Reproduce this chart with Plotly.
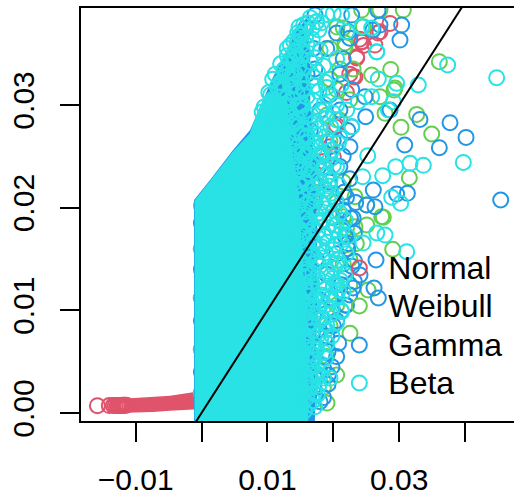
import plotly.graph_objects as go

RED, GREEN, BLUE, CYAN = "#DF536B", "#61D04F", "#2297E6", "#28E2E5"

# Dense mass of the Normal lower tail (outline)
normal_mass_x = [-.0114, -.00736, -.00478, .0002, .0002, -.00478, -.00736, -.0114]
normal_mass_y = [.00140, .00153, .00168, .00216, .00039, .00022, .00010, .00003]

# Dense mass of the Gamma and Beta clouds (outlines)
gamma_mass_x = [-.00114, -.00114, .00129, .00478, .00736, .00888, .01085, .01297, .01419, .0160,
                .0165, .0165, .0172, .0175, .0176, .0174, .0172]
gamma_mass_y = [-.001, .02074, .02269, .02561, .02756, .0298, .03272, .03535, .037, .0385,
                .0345, .030, .024, .019, .012, .006, -.001]
beta_mass_x = [-.00105, -.00105, .0013, .0048, .0073, .0086, .0100, .0130, .0133, .0142, .0148,
               .0152, .0156, .0158, .0162, .0162]
beta_mass_y = [-.001, .0207, .0226, .0255, .0272, .0295, .0312, .0305, .0275, .024, .021,
               .017, .012, .008, .004, -.001]

normal_x = [-.0158, -.0140, -.0134, -.0131, -.0128, -.0126, -.0124, -.0122, -.0120, -.0118, -.0116, -.0114,
            .0286, .02708, .0243, .0263, .02354, .02304, .02025, .0195, .01722, .0200, .01646, .02678,
            .02431, .0246, .0240, .02355, .02329, .0225, .0220, .0205, .0185, .0172]
normal_y = [.00071, .00072, .00073, .00073, .00073, .00074, .00074, .00074, .00075, .00075, .00075, .00076,
            .03794, .03713, .03616, .03583, .0347, .03275, .02788, .02593, .02236, .02496, .01762, .0370,
            .03613, .0358, .0364, .03457, .03272, .0330, .0312, .0280, .0245, .0205]

weibull_x = [.03609, .03265, .03027, .03493, .03154, .02871, .02921, .02708, .02785, .02582,
             .02329, .02506, .02734, .02177, .0243, .03062, .02708, .02456, .02152, .02759,
             .02901, .02507, .02329, .02527, .02253, .01904, .02051, .0175, .0185, .0195,
             .0190, .0205, .0210, .0195, .0215, .0230, .0225, .0215, .0205, .0220,
             .0235, .0215, .0225, .0205, .0195, .0190, .0185, .02178, .02056, .02936,
             -.00005, -.00005, -.00005, -.00005, -.00002, .0195, .0210, .0225]
weibull_y = [.03421, .02908, .02782, .02717, .02291, .03346, .03145, .0308, .02918, .03291,
             .02106, .02025, .01912, .03567, .03924, .03924, .03924, .03762, .01912, .01906,
             .01594, .01831, .01814, .01198, .00776, .00097, .0037, .0215, .024, .0265,
             .029, .0315, .0335, .0355, .0375, .0335, .0305, .0225, .0205, .018,
             .0165, .0145, .0125, .0105, .0085, .0055, .0025, .03603, .03758, .03164,
             .0020, .0062, .0112, .0160, .0202, .0325, .0285, .0150]

gamma_x = [.0454, .04014, .03771, .03609, .03315, .03083, .03124, .02961, .02607, .02632,
           .02506, .02491, .02861, .02481, .03012, .03037, .02708, .02228, .02279, .02152,
           .01621, .02253, .02678, .02648, .02618, .02683, .02405, .02299, .02051, .01925,
           .01849, .01798, .02279, .02602, .01722, .0230, .0218, .0205, .0190, .0180,
           .0170, .0175, .0190, .0205, .0220, .0232, .0212, .0196, .0182, .0170,
           .0178, .0192, .0208, .0222, .0216, .0200, .0186, .0174, .0164, .0178,
           .0194, .0210, .0200, .0184, .0168, .0155, .0165, .0180, .0195, .0210,
           .0160, .0150, .0170, .0158, .0140, .0152, .0172, .0190,
           -.00002, -.00002, -.00002, -.00002, .0155, .0163, .0172, .0179,
           .0225, .0232, .0218, .0228, .0222, .0232, .0226, .0234, .0220, .0225,
           .0215, .0222, .0228, .0210, .0215, .0225, .0205, .0200, .0192, .0198, .0185]
gamma_y = [.02074, .02684, .02827, .02584, .02859, .0261, .02139, .02132, .02171, .02009,
           .02025, .02885, .0295, .0308, .03632, .03778, .03778, .03713, .02788, .01977,
           .02431, .02593, .0392, .0149, .01217, .0112, .01344, .01217, .00549, .0037,
           .00451, .0011, .03875, .0373, .03875, .0190, .0172, .0155, .0135, .0110,
           .0095, .0080, .0075, .0090, .0105, .0148, .0125, .0112, .0092, .0065,
           .0048, .0028, .0068, .0165, .0215, .0190, .0172, .0150, .0130, .0240,
           .0225, .0240, .0265, .0250, .0225, .0290, .0275, .0295, .0310, .0330,
           .0330, .0350, .0355, .0375, .0345, .0315, .0335, .0355,
           .0040, .0090, .0140, .0185, .0012, .0035, .0018, .0041,
           .0115, .0128, .0105, .0143, .0160, .0175, .0190, .0205, .0210, .0228,
           .0250, .0275, .0315, .0295, .0345, .0365, .0370, .0085, .0060, .0045, .0015]

beta_x = [.04479, .03735, .0329, .03973, .03366, .03164, .02946, .02749, .02522, .03022,
          .02886, .02446, .02658, .02961, .02683, .02583, .02911, .02836, .02379, .02203,
          .02279, .02051, .02077, .01722, .01644, .0195, .02203, .01747, .01494, .02,
          .0243, .02785, .02659, .02451, .03114, .019, .02127, .0195, .02582, .02659,
          .01616, .02127,
          .0028, .0048, .0068, .0085, .0098, .0108, .0120, .0132, .0142, .0152,
          .0142, .0149, .0156, .0163, .0169, .0172,
          .0144, .0151, .0158, .0164, .0171, .0178,
          .0142, .0149, .0156, .0165, .0172, .0180,
          .0145, .0152, .0159, .0167, .0175, .0186,
          .0143, .0150, .0160, .0168, .0177, .0189,
          .0140, .0148, .0157, .0165, .0174, .0184, .0196,
          .0138, .0146, .0154, .0163, .0172, .0182, .0193, .0205,
          .0137, .0147, .0156, .0167, .0176, .0187, .0199, .0211,
          .0133, .0143, .0153, .0162, .0174, .0183, .0196, .0207,
          .0131, .0141, .0150, .0161, .0171, .0182, .0191, .0203,
          .0128, .0139, .0149, .0159, .0170, .0179, .0192, .0204,
          .0126, .0136, .0146, .0157, .0168, .0178, .0189, .0201,
          .0129, .0141, .0152, .0164, .0175, .0187, .0197,
          .0118, .0130, .0143, .0155, .0166, .0178, .0190,
          .0120, .0132, .0145, .0158, .0169, .0182, .0195,
          .0105, .0118, .0133, .0147, .0160, .0173, .0190,
          .0098, .0112, .0125, .0138, .0152, .0165, .0180, .0196,
          .0092, .0105, .0120, .0134, .0150, .0166, .0181, .0200,
          .0105, .0118, .0130, .0145, .0160, .0178, .0192,
          .0108, .0122, .0137, .0152, .0170, .0188,
          .0120, .0134, .0148, .0165, .0185,
          .0130, .0143, .0160, .0180,
          .0146, .0158, .0178,
          .0165, .0175, .0190,
          .0160, .0166, .0170, .0158, .0164, .0169, .0156, .0162, .0168, .0154,
          .0160, .0166, .0150, .0157, .0163, .0148, .0154, .0160, .0146, .0153,
          .0159, .0140, .0147, .0155, .0135, .0142, .0150, .0130, .0138, .0145,
          .0176,
          .0158, .0168, .0176, .0185,
          .0162, .0170, .0178, .0188,
          .0160, .0172, .0181, .0190,
          .0163, .0170, .0179, .0190,
          .0160, .0168, .0178, .0188, .0198,
          .0158, .0169, .0178, .0188, .0200, .0208,
          .0157, .0169, .0179, .0190, .0202,
          .0156, .0167, .0178, .0188, .0200,
          .0155, .0165, .0176, .0187, .0198, .0209,
          .0154, .0164, .0174, .0185, .0197,
          .0150, .0160, .0172, .0182, .0192, .0204,
          .0148, .0158, .0170, .0181, .0193,
          .0150, .0163, .0175, .0188, .0200,
          .0140, .0153, .0166, .0181, .0198,
          .0130, .0145, .0158, .0172, .0188,
          .0128, .0143, .0158, .0173, .0190,
          .0112, .0125, .0138, .0153, .0170, .0186,
          .0115, .0125, .0140, .0155, .0172, .0190,
          .0125, .0140, .0157, .0176,
          .0130, .0142, .0155, .0172,
          .0140, .0152, .0168,
          .0155, .0168, .0182,
          .0022, .0038, .0058, .0076, .0090, .0095, .0102, .0112, .0126, .0135,
          .0148, .0115, .0122, .0135, .0128,
          .0205, .0215, .0210, .0218, .0212, .0220, .0213, .0222, .0210, .0218,
          .0205, .0198, .0212, .0208, .0205, .0210, .0205, .0212, .0205]
beta_y = [.03265, .03389, .03194, .0244, .02412, .02431, .02399, .02311, .02506, .02042,
          .021, .02301, .03518, .0321, .03252, .0308, .03032, .0295, .03032, .0295,
          .02788, .02853, .02626, .02626, .02431, .02269, .03713, .03811, .03681, .03892,
          .03762, .01733, .01753, .01655, .01571, .00678, .00987, .00338, .03749, .03515,
          .03797, .03875,
          .0222, .0238, .0252, .0268, .0288, .0305, .0322, .0340, .0352, .0368,
          .0005, .0011, .0002, .0008, .0012, .0006,
          .0025, .0021, .0029, .0024, .0019, .0027,
          .0042, .0046, .0038, .0044, .0040, .0036,
          .0060, .0056, .0064, .0058, .0062, .0059,
          .0078, .0082, .0075, .0080, .0076, .0081,
          .0095, .0091, .0098, .0093, .0097, .0092, .0096,
          .0112, .0116, .0109, .0114, .0110, .0115, .0111, .0113,
          .0130, .0126, .0133, .0128, .0132, .0127, .0131, .0129,
          .0148, .0152, .0145, .0150, .0146, .0151, .0147, .0149,
          .0165, .0161, .0168, .0163, .0167, .0162, .0166, .0164,
          .0182, .0186, .0179, .0184, .0180, .0185, .0181, .0183,
          .0198, .0194, .0201, .0196, .0200, .0195, .0199, .0197,
          .0215, .0219, .0212, .0217, .0213, .0218, .0214,
          .0230, .0226, .0233, .0228, .0232, .0227, .0231,
          .0248, .0252, .0245, .0250, .0246, .0251, .0247,
          .0262, .0258, .0265, .0260, .0264, .0259, .0263,
          .0278, .0282, .0275, .0280, .0276, .0281, .0277, .0279,
          .0293, .0289, .0296, .0291, .0295, .0290, .0294, .0292,
          .0310, .0314, .0307, .0312, .0308, .0313, .0309,
          .0325, .0321, .0328, .0323, .0327, .0322,
          .0340, .0344, .0337, .0342, .0338,
          .0355, .0351, .0358, .0353,
          .0370, .0366, .0373,
          .0385, .0381, .0388,
          .0015, .0033, .0052, .0069, .0086, .0103, .0120, .0138, .0156, .0173,
          .0190, .0206, .0222, .0238, .0255, .0237, .0256, .0270, .0285, .0300,
          .0269, .0284, .0300, .0315, .0318, .0330, .0345, .0332, .0347, .0360,
          .0018,
          .0035, .0031, .0038, .0034,
          .0052, .0055, .0049, .0053,
          .0070, .0066, .0073, .0068,
          .0088, .0085, .0090, .0086,
          .0104, .0107, .0101, .0105, .0102,
          .0122, .0119, .0125, .0121, .0124, .0120,
          .0140, .0136, .0143, .0138, .0141,
          .0157, .0154, .0160, .0156, .0159,
          .0174, .0171, .0177, .0172, .0176, .0173,
          .0190, .0187, .0193, .0188, .0191,
          .0207, .0204, .0210, .0205, .0209, .0206,
          .0222, .0225, .0220, .0224, .0221,
          .0240, .0237, .0243, .0238, .0241,
          .0255, .0252, .0258, .0253, .0256,
          .0270, .0273, .0268, .0272, .0269,
          .0286, .0283, .0289, .0284, .0287,
          .0302, .0299, .0305, .0300, .0304, .0301,
          .0318, .0315, .0320, .0316, .0319, .0317,
          .0334, .0331, .0336, .0332,
          .0348, .0345, .0350, .0346,
          .0362, .0359, .0364,
          .0378, .0375, .0380,
          .0218, .0232, .0246, .0262, .0278, .0298, .0312, .0330, .0335, .0358,
          .0376, .0290, .0315, .0325, .0300,
          .0125, .0118, .0145, .0135, .0165, .0155, .0180, .0172, .0195, .0188,
          .0088, .0075, .0100, .0222, .0240, .0268, .0300, .0320, .0345]

reference_x = [-.002, .05]
reference_y = [-.002, .05]

series_names = ["Normal", "Weibull", "Gamma", "Beta"]
series_colors = [RED, GREEN, BLUE, CYAN]
key_marker_x = [.02395, .02395, .02395, .02395]
key_text_x = [.02835, .02835, .02835, .02835]
key_y = [.01382, .01012, .00632, .00262]
key_marker_y = [.01412, .01042, .00662, .00292]
x_ticks = [-.01, 0, .01, .02, .03, .04]
x_tick_labels = ["\u22120.01", "", "0.01", "", "0.03", ""]
y_ticks = [0, .01, .02, .03]
y_tick_labels = ["0.00", "0.01", "0.02", "0.03"]

FONT = "Liberation Sans"
RING = dict(symbol="circle-open", size=15)
fig = go.Figure()


def mass(x, y, color):
    fig.add_trace(go.Scatter(x=x, y=y, mode="lines", fill="toself", fillcolor=color,
                             line=dict(color=color, width=0), hoverinfo="skip"))


def rings(x, y, color, name):
    fig.add_trace(go.Scatter(x=x, y=y, mode="markers", name=name,
                             marker=dict(RING, color=color, line=dict(color=color, width=2))))


mass(normal_mass_x, normal_mass_y, RED)
rings(normal_x, normal_y, RED, series_names[0])
rings(weibull_x, weibull_y, GREEN, series_names[1])
mass(gamma_mass_x, gamma_mass_y, BLUE)
rings(gamma_x, gamma_y, BLUE, series_names[2])
mass(beta_mass_x, beta_mass_y, CYAN)
rings(beta_x, beta_y, CYAN, series_names[3])
fig.add_trace(go.Scatter(x=reference_x, y=reference_y, mode="lines",
                         line=dict(color="black", width=2)))
# Key, placed in data coordinates with no box, like the original
fig.add_trace(go.Scatter(x=key_marker_x, y=key_marker_y, mode="markers", hoverinfo="skip",
                         marker=dict(RING, color=series_colors,
                                     line=dict(color=series_colors, width=2))))
fig.add_trace(go.Scatter(x=key_text_x, y=key_y, mode="text", text=series_names, hoverinfo="skip",
                         textposition="middle right",
                         textfont=dict(family=FONT, size=32, color="black")))

axis = dict(showgrid=False, zeroline=False, showline=True, linecolor="black", linewidth=2,
            mirror=True, ticks="outside", ticklen=19, tickwidth=1.6, tickcolor="black",
            automargin=False, tickfont=dict(family=FONT, size=30, color="black"))

fig.update_layout(
    width=514, height=494, autosize=False, showlegend=False,
    margin=dict(l=81, r=0, t=8, b=73, pad=0),
    paper_bgcolor="white", plot_bgcolor="white",
    font=dict(family=FONT, color="black"),
    xaxis=dict(axis, range=[-.01829, .04742], tickmode="array", tickvals=x_ticks, ticktext=x_tick_labels,
               tickangle=0, ticklabelstandoff=12),
    yaxis=dict(axis, range=[-.00078, .03944], tickmode="array", tickvals=y_ticks, ticktext=y_tick_labels,
               tickangle=-90, ticklabelstandoff=14),
)

fig.write_html("out.html", config=dict(displayModeBar=False),
               post_script="document.body.style.margin='0';document.documentElement.style.overflow='hidden';")
